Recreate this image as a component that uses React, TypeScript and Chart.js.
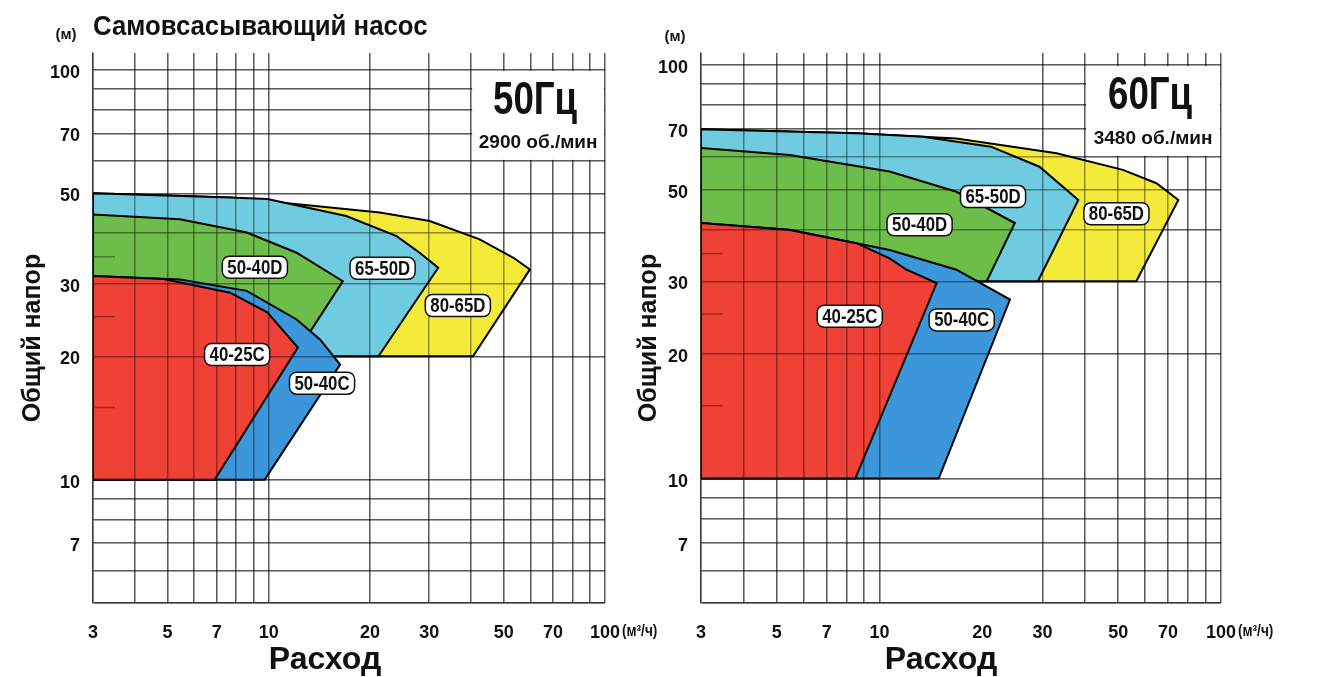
import React, { useEffect, useRef } from "react";
import { Chart, registerables } from "chart.js";

Chart.register(...registerables);

const SANS = "'Liberation Sans', Arial, 'DejaVu Sans', sans-serif";

const TITLE = "Самовсасывающий насос";
const X_TITLE = "Расход";
const Y_TITLE = "Общий напор";
const Y_UNIT = "(м)";
const X_UNIT = "(м³/ч)";

// axis grid values and labelled values
const xGridValues = [3, 4, 5, 6, 7, 8, 9, 10, 20, 30, 40, 50, 60, 70, 80, 90, 100];
const xLabelValues = [3, 5, 7, 10, 20, 30, 50, 70, 100];
const yGridValues = [5, 6, 7, 8, 9, 10, 20, 30, 40, 50, 60, 70, 80, 90, 100];
const yLabelValues = [7, 10, 20, 30, 50, 70, 100];
const headMinorMarks = [15, 25, 35];

// pump models (front to back) and their colours
const models = ["40-25C", "50-40C", "50-40D", "65-50D", "80-65D"];
const modelColors = ["#EF4136", "#3B97DA", "#6CBD4A", "#6ECBE0", "#F4EA3A"];

// ---- 50 Hz, 2900 rpm : flow Q (m³/h), head H (m) outlines ----
const q50_4025C = [3, 4.86, 7.67, 9.9, 12.2, 6.9, 3, 3];
const h50_4025C = [31.4, 30.9, 28.6, 25.6, 21.0, 10, 10, 31.4];
const q50_5040C = [3, 5.44, 8.6, 12.1, 14.2, 16.3, 9.72, 3, 3];
const h50_5040C = [31.4, 30.8, 28.9, 24.6, 22.0, 19.1, 10, 10, 31.4];
const q50_5040D = [3, 5.44, 8.6, 12.1, 16.6, 11.9, 3, 3];
const h50_5040D = [44.4, 43.2, 40.1, 35.8, 30.5, 20, 20, 44.4];
const q50_6550D = [3, 7.67, 9.9, 17.0, 24.0, 28.1, 31.9, 21.2, 3, 3];
const h50_6550D = [50, 48.8, 48.4, 44.0, 39.3, 35.8, 32.9, 20, 20, 50];
const q50_8065D = [3, 7.67, 13.5, 21.4, 30.1, 42.4, 53.4, 59.8, 40.5, 3, 3];
const h50_8065D = [50, 48.8, 46.6, 44.9, 42.8, 38.6, 34.8, 32.6, 20, 20, 50];

const labelQ50 = [8.05, 14.4, 9.09, 21.8, 36.5];
const labelH50 = [20.2, 17.2, 33.0, 32.8, 26.6];

// ---- 60 Hz, 3480 rpm ----
const q60_4025C = [3, 5.46, 8.55, 10.7, 12.0, 14.7, 8.49, 3, 3];
const h60_4025C = [41.5, 39.9, 37.1, 34.1, 32.0, 29.7, 10, 10, 41.5];
const q60_5040C = [3, 5.46, 10.7, 16.8, 24.1, 14.9, 3, 3];
const h60_5040C = [41.5, 40.0, 35.7, 32.0, 27.1, 10, 10, 41.5];
const q60_5040D = [3, 5.46, 10.7, 16.8, 24.9, 20.6, 3, 3];
const h60_5040D = [63, 60.6, 55.3, 49.4, 41.5, 30, 30, 63];
const q60_6550D = [3, 8.55, 13.4, 21.2, 29.4, 38.2, 29.1, 3, 3];
const h60_6550D = [70, 68.4, 67.1, 63.5, 56.8, 47.2, 30, 30, 70];
const q60_8065D = [3, 8.55, 16.8, 33.0, 51.6, 64.7, 75.0, 56.5, 3, 3];
const h60_8065D = [70, 68.4, 66.5, 61.2, 55.8, 51.8, 47.2, 30, 30, 70];

const labelQ60 = [8.18, 17.4, 13.1, 21.5, 49.4];
const labelH60 = [24.7, 24.2, 41.1, 48.1, 43.7];

// rating box (flow range, head range) and its texts
const boxQ = [40, 100];
const boxH = [60, 100];
const freq50 = "50Гц";
const rpm50 = "2900 об./мин";
const freq60 = "60Гц";
const rpm60 = "3480 об./мин";

const GRID = "rgba(0,0,0,0.4)";

type PanelDef = {
  q: number[][];
  h: number[][];
  lq: number[];
  lh: number[];
  freq: string;
  rpm: string;
  yMax: number;
  hiddenX: number[];
  canvasLeft: number;
  canvasWidth: number;
  areaLeft: number;
  areaRight: number;
  yTitleX: number;
  title: boolean;
  unitX: number;
  unitY: number;
  xTitleX: number;
};

const panels: PanelDef[] = [
  {
    q: [q50_4025C, q50_5040C, q50_5040D, q50_6550D, q50_8065D],
    h: [h50_4025C, h50_5040C, h50_5040D, h50_6550D, h50_8065D],
    lq: labelQ50,
    lh: labelH50,
    freq: freq50,
    rpm: rpm50,
    yMax: 110,
    hiddenX: [],
    canvasLeft: 0,
    canvasWidth: 700,
    areaLeft: 93,
    areaRight: 605,
    yTitleX: 33,
    title: true,
    unitX: 66,
    unitY: 35,
    xTitleX: 325,
  },
  {
    q: [q60_4025C, q60_5040C, q60_5040D, q60_6550D, q60_8065D],
    h: [h60_4025C, h60_5040C, h60_5040D, h60_6550D, h60_8065D],
    lq: labelQ60,
    lh: labelH60,
    freq: freq60,
    rpm: rpm60,
    yMax: 107,
    hiddenX: [20],
    canvasLeft: 620,
    canvasWidth: 698,
    areaLeft: 81,
    areaRight: 601,
    yTitleX: 29,
    title: false,
    unitX: 55,
    unitY: 37,
    xTitleX: 321,
  },
];

const CANVAS_H = 677;
const AREA_TOP = 53;
const AREA_BOTTOM = 603;

function condensedText(ctx: CanvasRenderingContext2D, text: string, x: number, y: number, font: string, sx: number) {
  ctx.save();
  ctx.translate(x, y);
  ctx.scale(sx, 1);
  ctx.font = font;
  ctx.fillText(text, 0, 0);
  ctx.restore();
}

const decorPlugin = {
  id: "decor",
  afterDatasetsDraw(chart: any, _args: any, opts: any) {
    const p: PanelDef = opts.panel;
    const { ctx, chartArea } = chart;
    const xs = chart.scales.x;
    const ys = chart.scales.y;
    // grid over the coloured fields
    xs.drawGrid(chartArea);
    ys.drawGrid(chartArea);

    ctx.save();
    // small head marks at the left edge
    ctx.strokeStyle = "rgba(0,0,0,0.35)";
    ctx.lineWidth = 1.5;
    for (const h of headMinorMarks) {
      const y = ys.getPixelForValue(h);
      ctx.beginPath();
      ctx.moveTo(chartArea.left, y);
      ctx.lineTo(chartArea.left + 22, y);
      ctx.stroke();
    }

    // rating box
    const bx1 = xs.getPixelForValue(boxQ[0]);
    const bx2 = xs.getPixelForValue(boxQ[1]);
    const by1 = ys.getPixelForValue(boxH[1]);
    const by2 = ys.getPixelForValue(boxH[0]);
    ctx.fillStyle = "#fff";
    ctx.fillRect(bx1 + 1, by1 + 1, bx2 - bx1 - 2, by2 - by1 - 2);
    const bcx = (bx1 + bx2) / 2;
    const bh = by2 - by1;
    ctx.fillStyle = "#111";
    ctx.textAlign = "center";
    ctx.textBaseline = "middle";
    condensedText(ctx, p.freq, bcx - 3, by1 + bh * 0.34, `bold 47px ${SANS}`, 0.78);
    ctx.font = `bold 19px ${SANS}`;
    ctx.fillText(p.rpm, bcx, by1 + bh * 0.8);

    // model labels
    const lf = `bold 20px ${SANS}`;
    for (let i = 0; i < models.length; i++) {
      const x = xs.getPixelForValue(p.lq[i]);
      const y = ys.getPixelForValue(p.lh[i]);
      ctx.font = lf;
      const w = ctx.measureText(models[i]).width * 0.84 + 10;
      const hh = 22;
      ctx.beginPath();
      ctx.roundRect(x - w / 2, y - hh / 2, w, hh, 7);
      ctx.fillStyle = "#fff";
      ctx.fill();
      ctx.lineWidth = 1.5;
      ctx.strokeStyle = "#111";
      ctx.stroke();
      ctx.fillStyle = "#111";
      condensedText(ctx, models[i], x, y + 1, lf, 0.84);
    }
    ctx.restore();
  },
  afterDraw(chart: any, _args: any, opts: any) {
    const p: PanelDef = opts.panel;
    const { ctx, chartArea } = chart;
    ctx.save();
    ctx.fillStyle = "#111";
    ctx.textBaseline = "middle";
    if (p.title) {
      ctx.textAlign = "left";
      condensedText(ctx, TITLE, 93, 27, `bold 28px ${SANS}`, 0.92);
    }
    ctx.textAlign = "center";
    ctx.font = `bold 15px ${SANS}`;
    ctx.fillText(Y_UNIT, p.unitX, p.unitY);
    ctx.textAlign = "left";
    condensedText(ctx, X_UNIT, chartArea.right + 17, 632, `bold 16px ${SANS}`, 0.85);
    ctx.textAlign = "center";
    ctx.font = `bold 32px ${SANS}`;
    ctx.fillText(X_TITLE, p.xTitleX, 660);
    // vertical axis title
    ctx.save();
    ctx.translate(p.yTitleX, 338);
    ctx.rotate(-Math.PI / 2);
    ctx.font = `bold 25px ${SANS}`;
    ctx.fillText(Y_TITLE, 0, 0);
    ctx.restore();
    ctx.restore();
  },
};

function buildConfig(p: PanelDef): any {
  const datasets = p.q.map((qs, i) => ({
    label: models[i],
    data: qs.map((q, j) => ({ x: q, y: p.h[i][j] })),
    borderColor: "#000",
    borderWidth: 2,
    backgroundColor: modelColors[i],
    fill: "shape",
    pointRadius: 0,
    tension: 0,
    showLine: true,
  }));
  const tickFont = { family: SANS, size: 18, weight: "bold" };
  return {
    type: "line",
    data: { datasets },
    plugins: [decorPlugin],
    options: {
      animation: false,
      responsive: false,
      maintainAspectRatio: false,
      events: [],
      layout: {
        padding: { left: 0, right: p.canvasWidth - p.areaRight, top: AREA_TOP, bottom: 0 },
      },
      plugins: {
        legend: { display: false },
        tooltip: { enabled: false },
        decor: { panel: p },
      },
      scales: {
        x: {
          type: "logarithmic",
          min: 3,
          max: 100,
          afterBuildTicks: (s: any) => {
            s.ticks = xGridValues.map((v) => ({ value: v }));
          },
          afterFit: (s: any) => {
            s.height = CANVAS_H - AREA_BOTTOM;
          },
          grid: {
            color: (c: any) =>
              c.tick && p.hiddenX.includes(c.tick.value) ? "rgba(0,0,0,0)" : GRID,
            lineWidth: 1.5,
            drawTicks: false,
          },
          border: { color: GRID, width: 1.5 },
          ticks: {
            autoSkip: false,
            maxRotation: 0,
            minRotation: 0,
            padding: 19,
            color: "#111",
            font: tickFont,
            callback: (v: any) => (xLabelValues.includes(Number(v)) ? String(v) : ""),
          },
        },
        y: {
          type: "logarithmic",
          min: 5,
          max: p.yMax,
          afterBuildTicks: (s: any) => {
            s.ticks = yGridValues.map((v) => ({ value: v }));
          },
          afterFit: (s: any) => {
            s.width = p.areaLeft;
          },
          grid: { color: GRID, lineWidth: 1.5, drawTicks: false },
          border: { color: GRID, width: 1.5 },
          ticks: {
            autoSkip: false,
            padding: 13,
            labelOffset: 3,
            color: "#111",
            font: tickFont,
            callback: (v: any) => (yLabelValues.includes(Number(v)) ? String(v) : ""),
          },
        },
      },
    },
  };
}

function PanelChart({ p }: { p: PanelDef }) {
  const ref = useRef<HTMLCanvasElement | null>(null);
  useEffect(() => {
    if (!ref.current) return;
    const chart = new Chart(ref.current, buildConfig(p));
    return () => chart.destroy();
  }, [p]);
  return (
    <canvas
      ref={ref}
      width={p.canvasWidth}
      height={CANVAS_H}
      style={{
        position: "absolute",
        left: p.canvasLeft,
        top: 0,
        width: p.canvasWidth,
        height: CANVAS_H,
      }}
    />
  );
}

export default function App() {
  return (
    <div
      style={{
        position: "absolute",
        left: 0,
        top: 0,
        width: 1318,
        height: 677,
        background: "#fff",
        overflow: "hidden",
      }}
    >
      {panels.map((p, i) => (
        <PanelChart key={i} p={p} />
      ))}
    </div>
  );
}
